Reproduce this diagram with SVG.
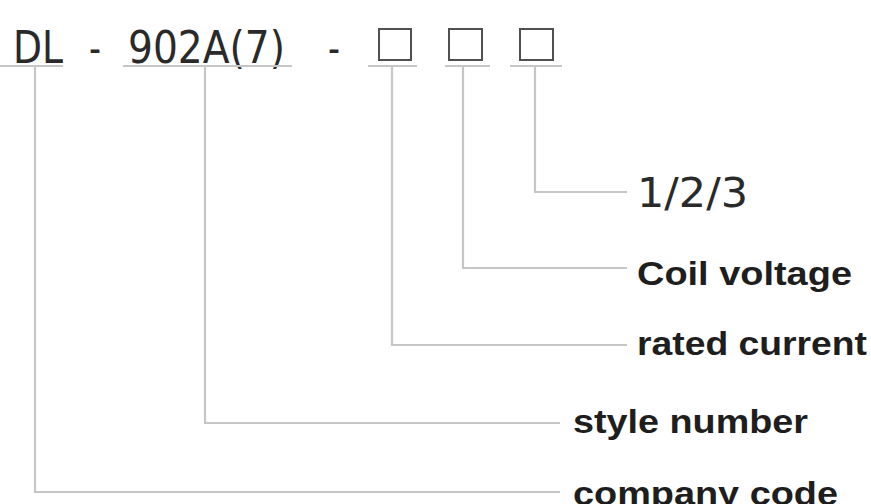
<svg xmlns="http://www.w3.org/2000/svg" width="871" height="504" viewBox="0 0 871 504">
<style>
.code{font-family:"DejaVu Sans",sans-serif;font-size:45px;fill:#2a2a2a}
.lbl{font-family:"Liberation Sans",Arial,sans-serif;font-weight:bold;font-size:34px;fill:#1e1e1e}
.num{font-family:"DejaVu Sans",sans-serif;font-size:41px;fill:#2a2a2a}
.ln{stroke:#c6c6c6;stroke-width:2.2;fill:none}
.box{stroke:#505050;stroke-width:2;fill:none}
</style>
<rect width="871" height="504" fill="#fff"/>
<g id="code">
<text class="code" x="13" y="63" textLength="50" lengthAdjust="spacingAndGlyphs">DL</text>
<text class="code" x="89" y="63" textLength="12" lengthAdjust="spacingAndGlyphs">-</text>
<text class="code" x="128" y="63" textLength="157" lengthAdjust="spacingAndGlyphs">902A(7)</text>
<text class="code" x="328" y="63" textLength="12" lengthAdjust="spacingAndGlyphs">-</text>
<rect class="box" x="379" y="29" width="32" height="31"/>
<rect class="box" x="449" y="29" width="33" height="31"/>
<rect class="box" x="520" y="29" width="33" height="31"/>
</g>
<g id="connectors">
<path class="ln" d="M0 66H63M123 66H292M368 66H417M445 66H490M510 66H562"/>
<path class="ln" d="M535 66V192H627"/>
<path class="ln" d="M463 66V268H627"/>
<path class="ln" d="M392 66V345H627"/>
<path class="ln" d="M205 66V423H560"/>
<path class="ln" d="M35 66V492H560"/>
</g>
<g id="n-123"><text class="num" x="637" y="207" textLength="111" lengthAdjust="spacingAndGlyphs">1/2/3</text></g>
<g id="n-coil"><text class="lbl" x="637" y="285" textLength="215" lengthAdjust="spacingAndGlyphs">Coil voltage</text></g>
<g id="n-rated"><text class="lbl" x="637" y="355" textLength="230" lengthAdjust="spacingAndGlyphs">rated current</text></g>
<g id="n-style"><text class="lbl" x="573" y="433" textLength="235" lengthAdjust="spacingAndGlyphs">style number</text></g>
<g id="n-company"><text class="lbl" x="573" y="505" textLength="265" lengthAdjust="spacingAndGlyphs">company code</text></g>
</svg>
